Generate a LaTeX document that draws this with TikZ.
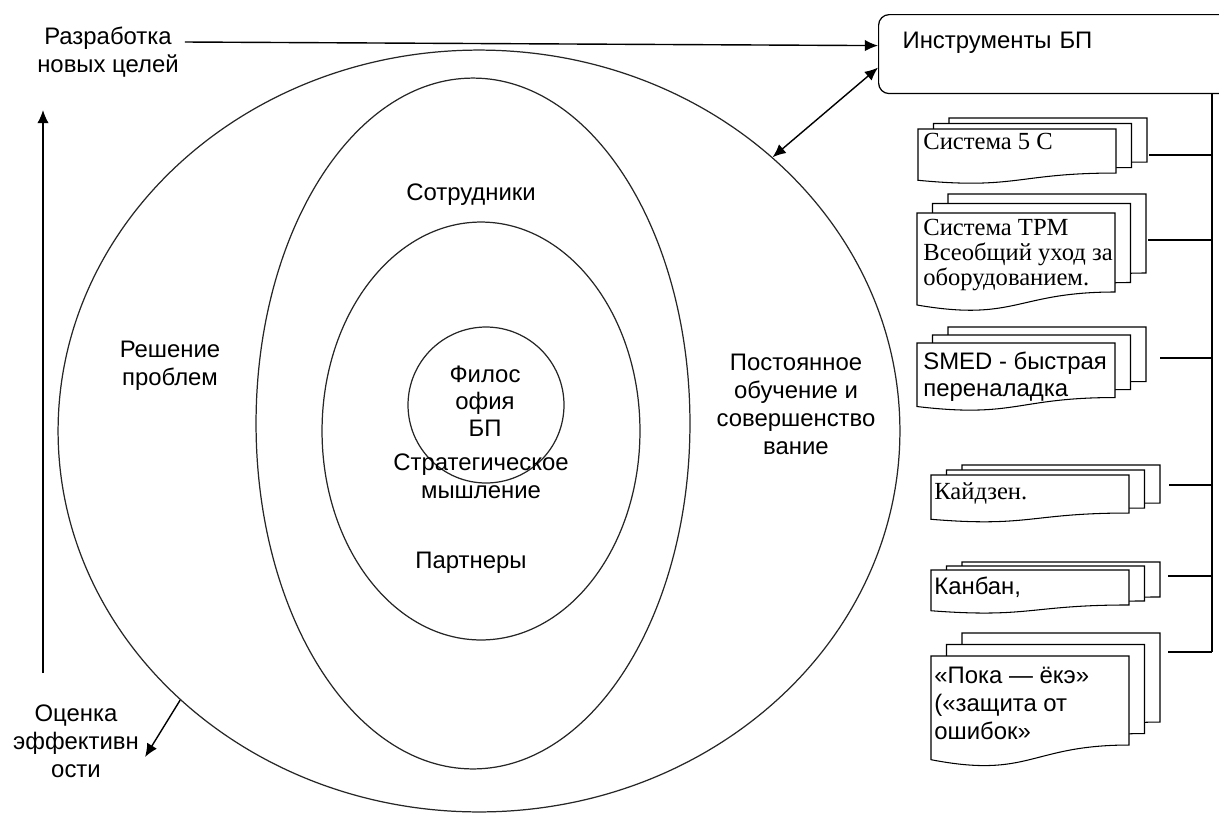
\documentclass[tikz,border=0pt]{standalone}
\usepackage{fontspec}
\setmainfont{Liberation Sans}
\newfontfamily\tnr{Liberation Serif}
\usetikzlibrary{shapes.geometric,arrows.meta}

% one sheet with a wavy lower edge: x, y, width, height (pixels)
\newcommand{\docpage}[4]{%
  \draw[page] ({#1},{#2}) -- ({#1+#3},{#2}) -- ({#1+#3},{#2+0.802*#4})
    .. controls ({#1+0.5*#3},{#2+0.802*#4}) and ({#1+0.5*#3},{#2+1.107*#4}) .. ({#1},{#2+0.934*#4}) -- cycle;}
% three sheets: x, y, height, dx, dy
\newcommand{\docstack}[5]{%
  \docpage{#1+2*#4}{#2-2*#5}{198}{#3}
  \docpage{#1+#4}{#2-#5}{198}{#3}
  \docpage{#1}{#2}{198}{#3}}

\begin{document}
\begin{tikzpicture}[x=0.02cm,y=-0.02cm,
  lbl/.style={align=center,font=\fontsize{13.6}{15.9}\selectfont},
  ring/.style={draw,ellipse,inner sep=0,line width=0.7pt,black!85},
  page/.style={draw,fill=white,line width=0.6pt},
  doctxt/.style={anchor=north west,align=left,inner sep=0},
  docserif/.style={font=\tnr\fontsize{14}{14.2}\selectfont},
  docsans/.style={font=\fontsize{13.6}{15.3}\selectfont},
  arr/.style={-{Latex[length=7.5pt,width=6.5pt]},line width=0.8pt},
  darr/.style={{Latex[length=7.5pt,width=6.5pt]}-{Latex[length=7.5pt,width=6.5pt]},line width=0.8pt}]
  \useasboundingbox (0,0) rectangle (1219,812);
  \clip (0,0) rectangle (1219,812);

  % Rings
  \node[ring,minimum width=16.84cm,minimum height=15.24cm] (outer) at (479,431) {};
  \node[ring,minimum width=8.68cm,minimum height=13.82cm] (staff) at (473,423.5) {};
  \node[ring,minimum width=6.36cm,minimum height=8.36cm] (partn) at (481,431) {};
  \node[ring,circle,minimum size=3.12cm] (core) at (486,405) {};

  % Ring labels
  \node[lbl] (staffl) at (471,195) {Сотрудники};
  \node[lbl] (solve) at (170,366) {Решение\\проблем};
  \node[lbl] (learn) at (796,404) {Постоянное\\обучение и\\совершенство\\вание};
  \node[lbl,font=\fontsize{13.6}{15.3}\selectfont] (phil) at (485,401) {Филос\\офия\\БП};
  \node[lbl] (strat) at (481,476) {Стратегическое\\мышление};
  \node[lbl] (partl) at (471,563) {Партнеры};

  % Left side
  \node[lbl] (dev) at (108,52) {Разработка\\новых целей};
  \node[lbl] (eval) at (76,741) {Оценка\\эффективн\\ости};
  \coordinate (up0) at (43,673);
  \coordinate (up1) at (43,110);
  \draw[arr] (up0) -- (up1);
  \draw[arr] (outer.222.5) -- ([yshift=-0.32cm]eval.east);

  % Tools box
  \node[draw,rounded corners=6pt,anchor=north west,line width=0.7pt,
        text width=6.28cm,inner xsep=0.48cm,minimum height=1.58cm,
        align=left,font=\fontsize{13.6}{15.9}\selectfont] (tools) at (878,14) {Инструменты БП\\\mbox{}};
  \draw[arr] ([yshift=0.2cm]dev.east) -- ([yshift=0.17cm]tools.west);
  \draw[darr] (outer.43) -- ([yshift=-0.27cm]tools.west);

  % Stack 1
  \docstack{918}{129}{54.9}{15.5}{5.5}
  \node[doctxt,docserif] (d1) at (923,133) {Система 5 С};
  % Stack 2
  \docstack{917}{213}{98.5}{15.5}{9.5}
  \node[doctxt,docserif] (d2) at (923,219) {Система ТРМ\\Всеобщий уход за\\оборудованием.};
  % Stack 3
  \docstack{917}{343}{68}{15.5}{8}
  \node[doctxt,docsans] (d3) at (923,352) {SMED - быстрая\\переналадка};
  % Stack 4
  \docstack{931}{475}{47.4}{15.5}{5}
  \node[doctxt,docserif] (d4) at (934,482) {Кайдзен.};
  % Stack 5
  \docstack{931}{570}{43.6}{15.5}{4}
  \node[doctxt,docsans] (d5) at (934,577) {Канбан,};
  % Stack 6
  \docstack{931}{656}{111}{15.5}{11.5}
  \node[doctxt,docsans,font=\fontsize{13.6}{15.9}\selectfont] (d6) at (934,667) {«Пока — ёкэ»\\(«защита от\\ошибок»};

  % Bus
  \coordinate (bus0) at (1212,93);
  \coordinate (bus1) at (1212,652);
  \draw[line width=0.6pt] (bus0) -- (bus1);
  \coordinate (e1) at (1149,155);
  \coordinate (e2) at (1148,240);
  \coordinate (e3) at (1160,358);
  \coordinate (e4) at (1169,485);
  \coordinate (e5) at (1168,576);
  \coordinate (e6) at (1168,652);
  \draw[line width=0.6pt] (e1) -- (e1 -| bus0);
  \draw[line width=0.6pt] (e2) -- (e2 -| bus0);
  \draw[line width=0.6pt] (e3) -- (e3 -| bus0);
  \draw[line width=0.6pt] (e4) -- (e4 -| bus0);
  \draw[line width=0.6pt] (e5) -- (e5 -| bus0);
  \draw[line width=0.6pt] (e6) -- (e6 -| bus0);
\end{tikzpicture}
\end{document}
